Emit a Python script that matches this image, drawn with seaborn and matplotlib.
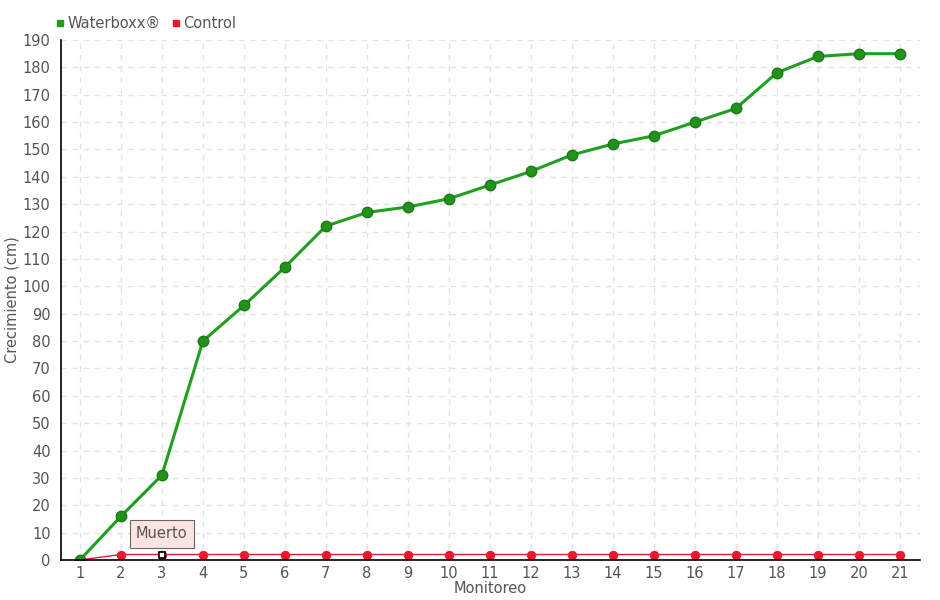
import matplotlib
matplotlib.use("Agg")
import matplotlib.pyplot as plt
from matplotlib.lines import Line2D
import seaborn as sns
import pandas as pd

# data
monitoreo = list(range(1, 22))
waterboxx = [0, 16, 31, 80, 93, 107, 122, 127, 129, 132, 137, 142, 148, 152, 155,
             160, 165, 178, 184, 185, 185]
control = [0] + [2] * 20

df = pd.DataFrame({
    "Monitoreo": monitoreo * 2,
    "Crecimiento": waterboxx + control,
    "Serie": ["Waterboxx®"] * 21 + ["Control"] * 21,
})

sns.set_style("white")
plt.rcParams["font.family"] = ["DejaVu Sans"]

txt = "#555555"
green = "#1ea01e"
red = "#e8192c"

fig = plt.figure(figsize=(9.4, 6), dpi=100)
ax = fig.add_axes([0.065, 0.0667, 0.914, 0.8666])

sns.lineplot(data=df[df.Serie == "Control"], x="Monitoreo", y="Crecimiento",
             color=red, lw=1.0, marker="o", markersize=6, markeredgecolor=red,
             ax=ax, legend=False)
sns.lineplot(data=df[df.Serie == "Waterboxx®"], x="Monitoreo", y="Crecimiento",
             color=green, lw=2.2, marker="o", markersize=7.5, markerfacecolor="#22931a",
             markeredgecolor="#1a7a14", markeredgewidth=1, ax=ax, legend=False)

# dead marker on control
ax.plot(3, control[2], marker="s", markersize=4.5, markerfacecolor="white",
        markeredgecolor="black", markeredgewidth=1.2, zorder=5)
ax.annotate("Muerto", xy=(3, control[2]), xytext=(3.0, 9.5), ha="center", va="center",
            color=txt, fontsize=10.5,
            bbox=dict(boxstyle="square,pad=0.45", fc="#fde3e3", ec="#666666", lw=0.8))

ax.set_xlim(0.54, 21.5)
ax.set_ylim(0, 190)
ax.set_xticks(monitoreo)
ax.set_yticks(range(0, 191, 10))
ax.grid(True, color="#e3e3e3", linestyle=(0, (4, 4)), lw=1)
for s in ["top", "right"]:
    ax.spines[s].set_visible(False)
for s in ["left", "bottom"]:
    ax.spines[s].set_color("black")
    ax.spines[s].set_linewidth(1.2)
ax.tick_params(axis="both", labelcolor=txt, color="black", labelsize=10.5,
               length=4, width=1, direction="out")
ax.tick_params(axis="x", pad=1, length=3)
ax.set_xlabel("Monitoreo", color=txt, fontsize=10.5, labelpad=0)
ax.set_ylabel("Crecimiento (cm)", color=txt, fontsize=10.5, labelpad=2)

handles = [Line2D([], [], ls="", marker="s", markersize=5, color=green),
           Line2D([], [], ls="", marker="s", markersize=5, color=red)]
leg = fig.legend(handles, ["Waterboxx®", "Control"], loc="upper left",
                 bbox_to_anchor=(0.045, 0.995), ncol=2, frameon=False, fontsize=10.5,
                 handlelength=0.6, handletextpad=0.2, columnspacing=0.8)
for t in leg.get_texts():
    t.set_color(txt)

fig.savefig("out.png", dpi=100)
